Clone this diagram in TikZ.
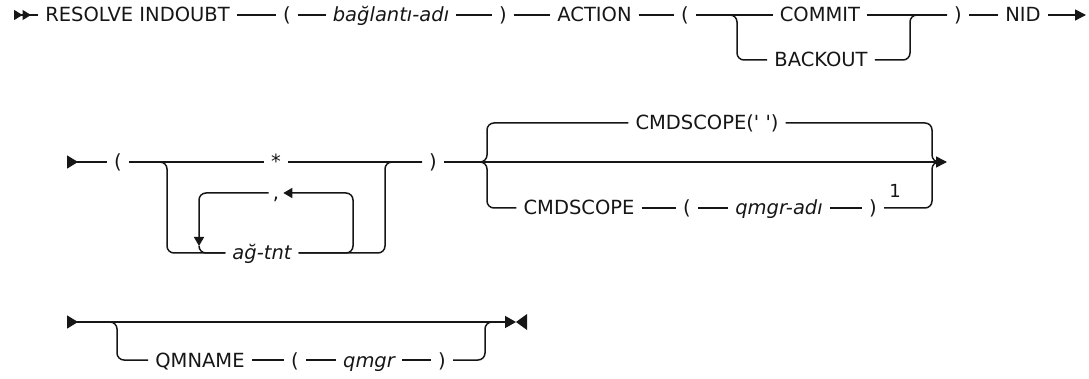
\documentclass[tikz,border=0pt]{standalone}
\usepackage{fontspec}
\setmainfont{DejaVu Sans}
\usetikzlibrary{arrows.meta}
\definecolor{ink}{HTML}{161616}
\tikzset{
  token/.style={inner xsep=7pt,inner ysep=0pt,text height=18pt,text depth=4pt,font=\fontsize{19.5}{22}\selectfont,text=ink},
  var/.style={token,font=\fontsize{19.5}{22}\selectfont\itshape},
  rail/.style={line width=1.5pt,draw=ink},
  branch/.style={rail,rounded corners=7pt},
  go/.style={rail,-{Triangle[length=11pt,width=11pt]}},
  back/.style={branch,-{Triangle[length=9pt,width=10pt]}},
  entry/.style={rail,{Triangle[reversed,length=11pt,width=13pt]}-},
  firstentry/.style={rail,{Triangle[reversed,length=8.5pt,width=10pt]Triangle[reversed,length=8.5pt,width=10pt]}-}
}
\begin{document}
\begin{tikzpicture}[x=1pt,y=-1pt]
  \useasboundingbox (0,0) rectangle (1089,379);
  % row 1
  \coordinate (start1) at (14,15);
  \node[token] (resolve) at (137.5,15) {RESOLVE INDOUBT};
  \node[token] (lpA) at (287,15) {(};
  \node[var] (conn) at (391,15) {bağlantı-adı};
  \node[token] (rpA) at (503,15) {)};
  \node[token] (action) at (594.5,15) {ACTION};
  \node[token] (lpB) at (685,15) {(};
  \node[token] (commit) at (820,15) {COMMIT};
  \node[token] (backout) at (821,60) {BACKOUT};
  \node[token] (rpB) at (958,15) {)};
  \node[token] (nid) at (1023,15) {NID};
  \coordinate (end1) at (1086,15);
  \coordinate (actL) at (737,15);
  \coordinate (actR) at (910,15);
  \draw[firstentry] (start1) -- (resolve.west);
  \draw[rail] (resolve.east) -- (lpA.west);
  \draw[rail] (lpA.east) -- (conn.west);
  \draw[rail] (conn.east) -- (rpA.west);
  \draw[rail] (rpA.east) -- (action.west);
  \draw[rail] (action.east) -- (lpB.west);
  \draw[rail] (lpB.east) -- (commit.west);
  \draw[rail] (commit.east) -- (rpB.west);
  \draw[branch] (lpB.east) -- (actL) |- (backout.west);
  \draw[branch] (backout.east) -| (actR) -- (rpB.west);
  \draw[rail] (rpB.east) -- (nid.west);
  \draw[go] (nid.east) -- (end1);
  % row 2
  \coordinate (start2) at (67,162);
  \node[token] (lpC) at (118,162) {(};
  \node[token] (star) at (276,162) {*};
  \node[token,inner xsep=4pt] (comma) at (276,193) {,};
  \node[var] (net) at (262,253) {ağ-tnt};
  \node[token] (rpC) at (433,162) {)};
  \coordinate (listL) at (167,162);
  \coordinate (listR) at (385,162);
  \coordinate (loopR) at (353,193);
  \coordinate (loopTip) at (199,246);
  \draw[entry] (start2) -- (lpC.west);
  \draw[rail] (lpC.east) -- (star.west);
  \draw[rail] (star.east) -- (rpC.west);
  \draw[branch] (lpC.east) -- (listL) |- (net.west);
  \draw[branch] (net.east) -| (listR) -- (rpC.west);
  \draw[back] (net.east) -| (loopR) -- (comma.east);
  \draw[back] (comma.west) -| (loopTip);
  \draw[branch] (loopTip) |- (net.west);
  \node[token] (cmddef) at (707,123) {CMDSCOPE(\textquotesingle\ \textquotesingle)};
  \node[token] (cmd) at (579,208) {CMDSCOPE};
  \node[token] (lpD) at (687,208) {(};
  \node[var] (qmgrn) at (779,208) {qmgr-adı};
  \node[token] (rpD) at (873,208) {)};
  \node[font=\fontsize{18}{20}\selectfont,text=ink,inner sep=0pt] (note) at (895,191) {1};
  \coordinate (cmdL) at (487,162);
  \coordinate (cmdR) at (932,162);
  \coordinate (cmdOut) at (940,162);
  \coordinate (end2) at (947,162);
  \draw[go] (rpC.east) -- (end2);
  \draw[branch] (rpC.east) -- (cmdL) |- (cmddef.west);
  \draw[branch] (rpC.east) -- (cmdL) |- (cmd.west);
  \draw[branch] (cmddef.east) -| (cmdR) -- (cmdOut);
  \draw[rail] (cmd.east) -- (lpD.west);
  \draw[rail] (lpD.east) -- (qmgrn.west);
  \draw[rail] (qmgrn.east) -- (rpD.west);
  \draw[branch] (rpD.east) -| (cmdR) -- (cmdOut);
  % row 3
  \coordinate (start3) at (67,322);
  \node[token] (qmname) at (200,360) {QMNAME};
  \node[token] (lpE) at (295,360) {(};
  \node[var] (qmgr) at (369,360) {qmgr};
  \node[token] (rpE) at (442,360) {)};
  \coordinate (qmL) at (117,322);
  \coordinate (qmR) at (485,322);
  \coordinate (qmOut) at (495,322);
  \coordinate (end3) at (516,322);
  \draw[rail,{Triangle[reversed,length=11pt,width=13pt]}-{Triangle[length=11pt,width=12pt]}] (start3) -- (end3);
  \fill[ink] (end3) -- (527,314) -- (527,330) -- cycle;
  \draw[branch] (start3) -- (qmL) |- (qmname.west);
  \draw[rail] (qmname.east) -- (lpE.west);
  \draw[rail] (lpE.east) -- (qmgr.west);
  \draw[rail] (qmgr.east) -- (rpE.west);
  \draw[branch] (rpE.east) -| (qmR) -- (qmOut);
\end{tikzpicture}
\end{document}
